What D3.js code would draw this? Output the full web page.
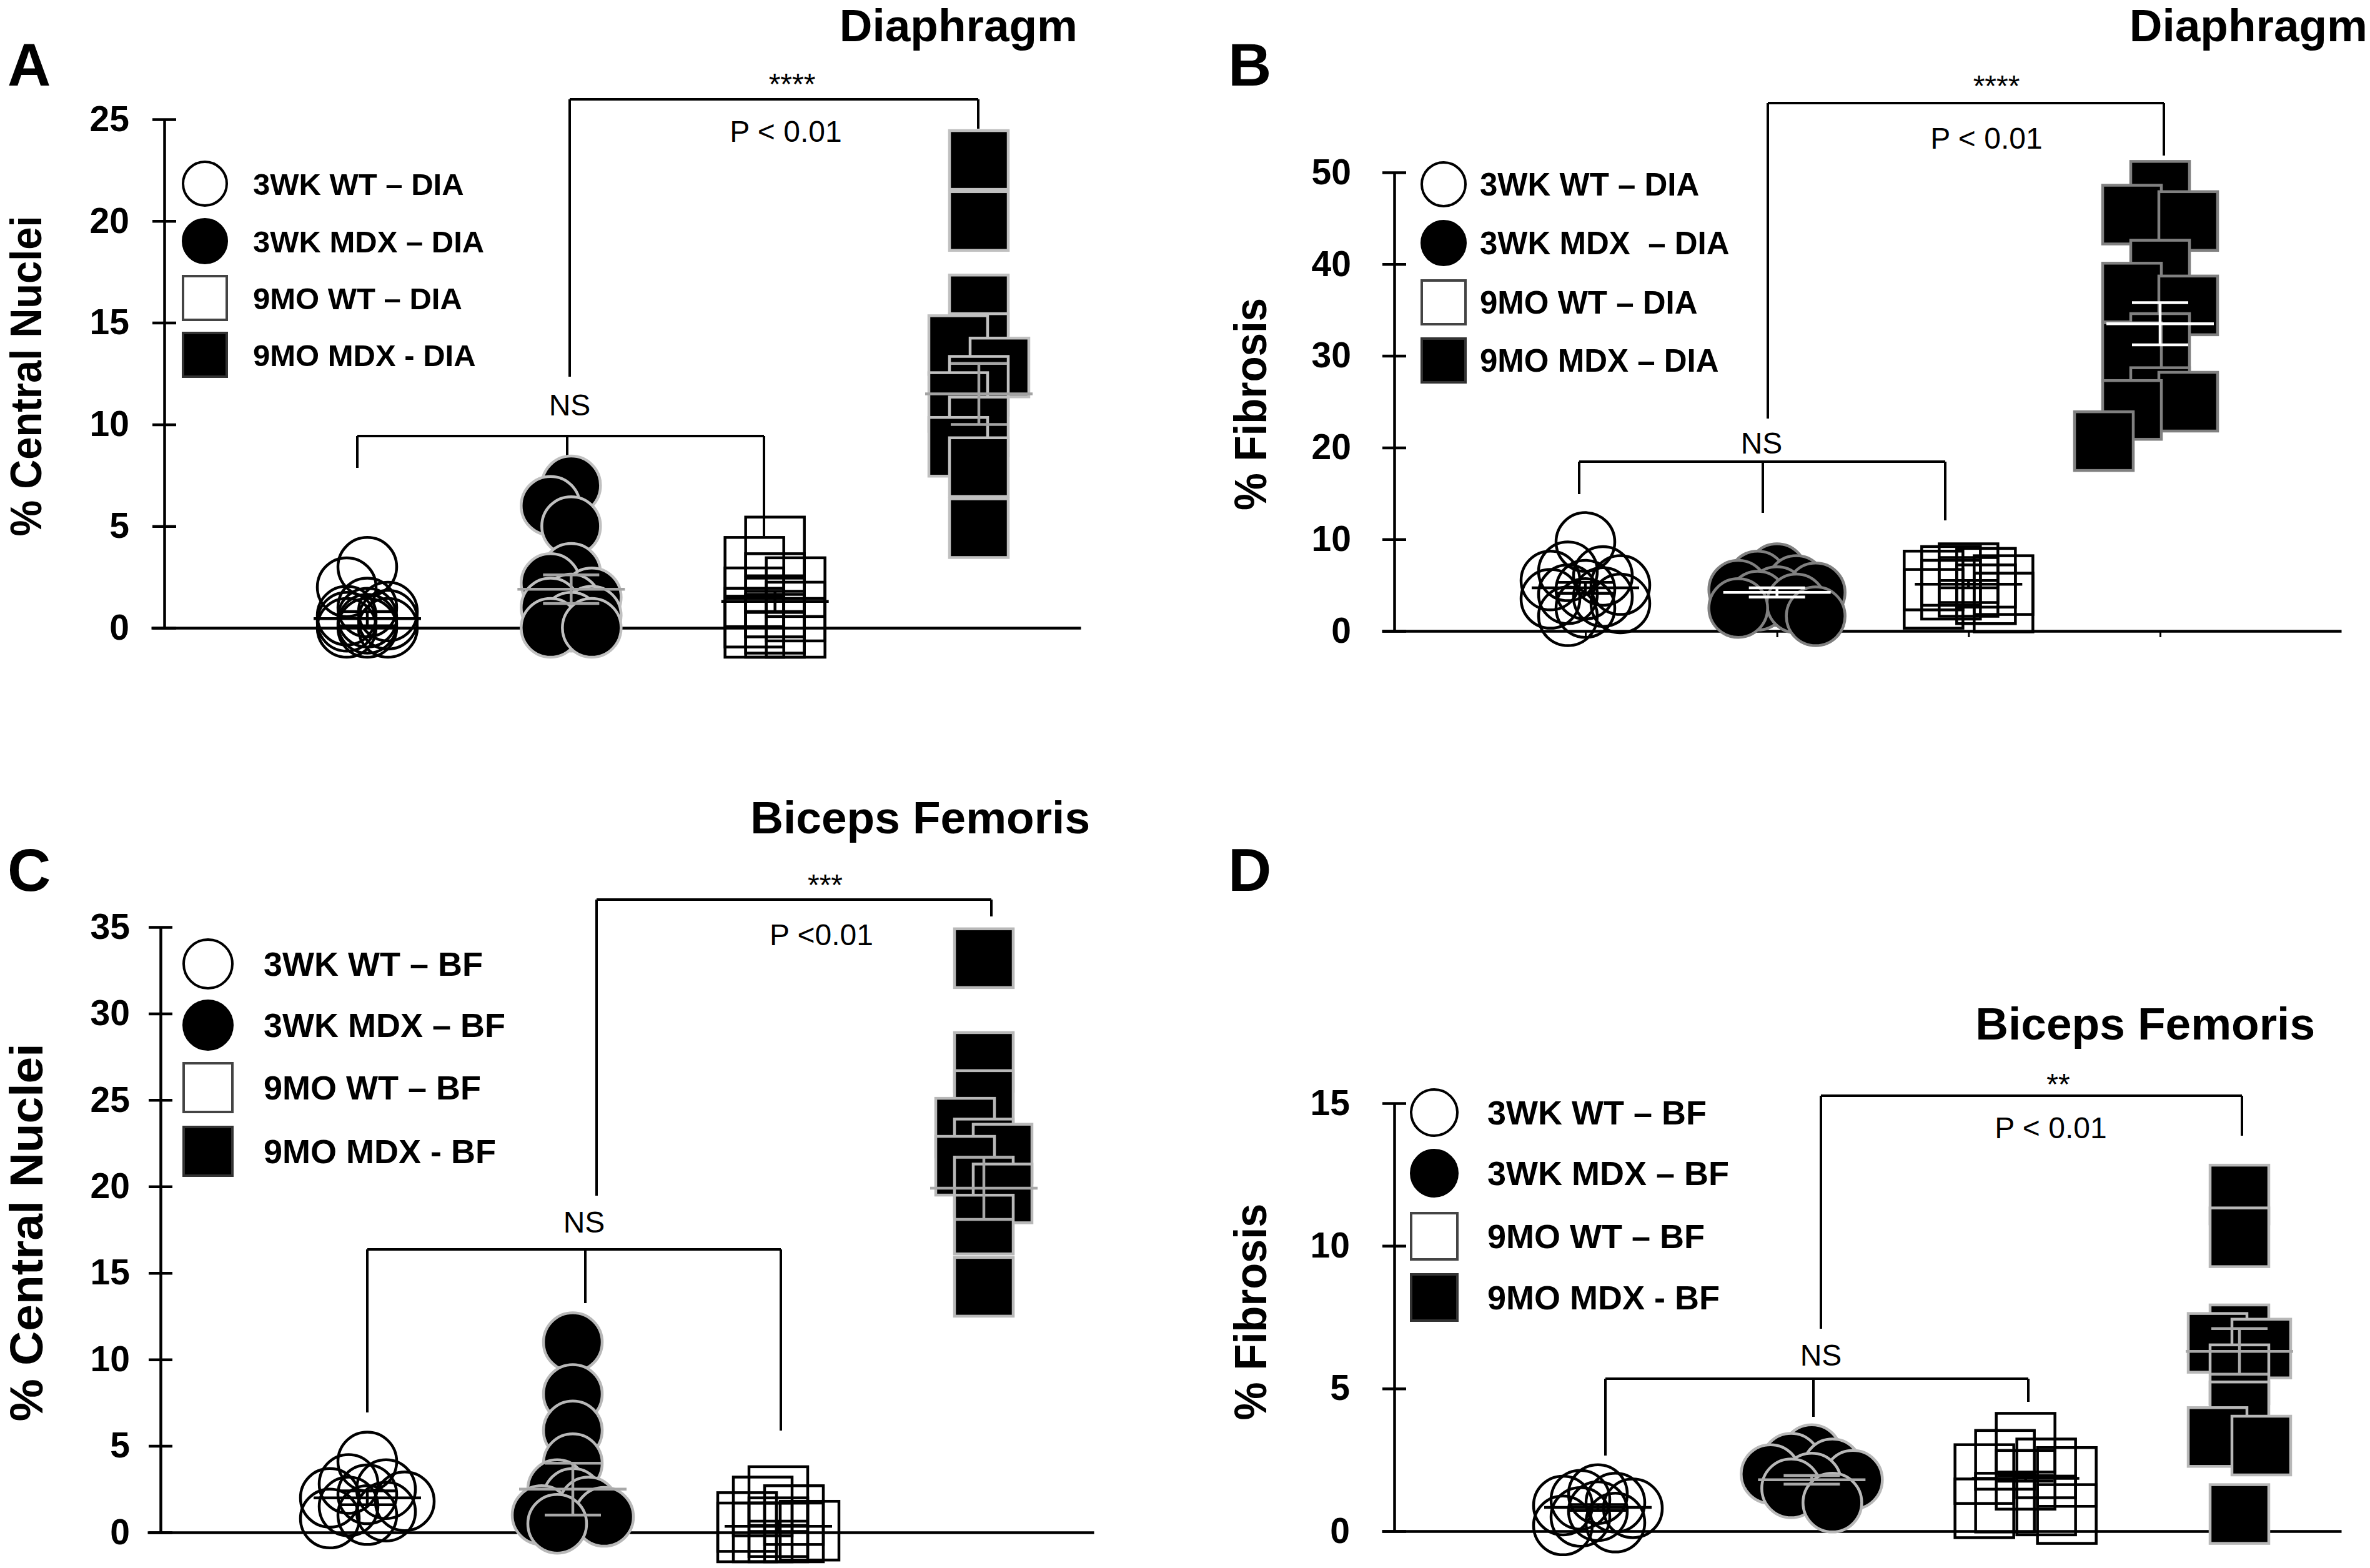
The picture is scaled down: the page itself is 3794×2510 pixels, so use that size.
<!DOCTYPE html>
<html>
<head>
<meta charset="utf-8">
<script src="https://cdn.jsdelivr.net/npm/d3@7"></script>
<style>
  body { margin: 0; background: #fff; }
  svg text { font-family: "Liberation Sans", Arial, Helvetica, sans-serif; fill: #000; }
</style>
</head>
<body>
<svg id="fig" width="3794" height="2510" viewBox="0 0 3794 2510"></svg>
<script>
// groups, same order in every panel
const groups = ["3WK WT", "3WK MDX", "9MO WT", "9MO MDX"];

// A - % central nuclei, diaphragm
const aWT3 = [3.0, 2.0, 1.0, 0.8, 0.6, 0.5, 0.4, 0.3, 0.2, 0, 0, 0];
const aMDX3 = [7.0, 6.0, 5.0, 2.7, 2.2, 1.5, 1.2, 1.0, 0.6, 0.3, 0, 0];
const aWT9 = [4.0, 3.0, 2.2, 2.0, 1.5, 1.0, 0.8, 0.5, 0.2, 0, 0, 0];
const aMDX9 = [23.0, 20.0, 15.9, 14.0, 13.9, 12.8, 11.9, 11.1, 9.9, 8.9, 7.9, 4.9];
const aMean = [0.45, 1.9, 1.3, 11.5];
const aSem = [0.35, 0.7, 0.5, 1.5];
const aTicks = [0, 5, 10, 15, 20, 25];
const aLegend = ["3WK WT \u2013 DIA", "3WK MDX \u2013 DIA", "9MO WT \u2013 DIA", "9MO MDX - DIA"];

// B - % fibrosis, diaphragm
const bWT3 = [9.7, 6.5, 6.0, 5.5, 5.0, 4.5, 4.0, 3.7, 3.5, 3.0, 2.5, 1.6];
const bMDX3 = [6.3, 5.5, 5.0, 4.5, 4.2, 3.8, 3.3, 3.0, 2.5, 1.6];
const bWT9 = [6.3, 6.0, 5.8, 5.5, 5.0, 4.8, 4.5, 4.0, 3.5, 3.1];
const bMDX9 = [48.0, 45.4, 44.7, 39.4, 36.9, 35.5, 31.4, 30.4, 25.5, 25.0, 24.1, 20.7];
const bMean = [4.7, 4.2, 5.1, 33.5];
const bSem = [0.6, 0.5, 0.4, 2.3];
const bTicks = [0, 10, 20, 30, 40, 50];
const bLegend = ["3WK WT \u2013 DIA", "3WK MDX  \u2013 DIA", "9MO WT \u2013 DIA", "9MO MDX \u2013 DIA"];

// C - % central nuclei, biceps femoris
const cWT3 = [4.1, 2.8, 2.5, 2.2, 2.0, 1.8, 1.5, 1.2, 1.0, 0.8];
const cMDX3 = [11.0, 8.0, 5.9, 4.0, 2.5, 2.0, 1.5, 1.0, 0.9, 0.5];
const cWT9 = [2.1, 1.5, 1.0, 0.6, 0.3, 0.1, 0, 0, 0, 0];
const cMDX9 = [33.2, 27.2, 25.0, 23.4, 22.2, 21.9, 21.2, 20.0, 19.6, 17.8, 14.2];
const cMean = [2.0, 2.5, 0.35, 19.9];
const cSem = [0.4, 1.5, 0.3, 1.8];
const cTicks = [0, 5, 10, 15, 20, 25, 30, 35];
const cLegend = ["3WK WT \u2013 BF", "3WK MDX \u2013 BF", "9MO WT \u2013 BF", "9MO MDX - BF"];

// D - % fibrosis, biceps femoris
const dWT3 = [1.3, 1.1, 1.0, 0.9, 0.8, 0.7, 0.5, 0.3, 0.2];
const dMDX3 = [2.7, 2.4, 2.2, 2.0, 1.8, 1.7, 1.5, 1.0];
const dWT9 = [3.1, 2.5, 2.2, 2.0, 1.9, 1.8, 1.0, 0.9, 0.8, 0.6];
const dMDX9 = [11.8, 10.3, 6.9, 6.6, 6.4, 5.5, 4.2, 3.3, 3.0, 0.6];
const dMean = [0.83, 1.8, 1.85, 6.3];
const dSem = [0.1, 0.15, 0.1, 0.8];
const dTicks = [0, 5, 10, 15];
const dLegend = ["3WK WT \u2013 BF", "3WK MDX \u2013 BF", "9MO WT \u2013 BF", "9MO MDX - BF"];

// layout of the four panels (pixels)
const panels = [
  { letter: "A", lx: 12, ly: 137, title: "Diaphragm", tx: 1725, ty: 66,
    ylabel: "% Central Nuclei", ylx: 66, yly: 602, ylSize: 71, ylLen: 513,
    ax: 263, y0: 1005, yTop: 191, xa: [242, 1730], gx: [588, 1567], tickPad: 37, xTick: 0,
    step: [33, 33, 33, 33], maxK: 1, gap: 0.5,
    data: [aWT3, aMDX3, aWT9, aMDX9], mean: aMean, sem: aSem, ticks: aTicks,
    legend: aLegend, legX: 328, legY: [294, 386, 477, 568], legR: 35, legTx: 405, legSize: 49,
    mdxStroke: "#c0c0c0", mdxLine: "#a3a3a3",
    brackets: [{ y: 159, legs: [[912, 603], [1566, 206]] },
               { y: 698, legs: [[572, 749], [908, 733], [1223, 858]] }],
    notes: [["****", 1268, 151], ["P < 0.01", 1258, 227], ["NS", 912, 665]] },
  { letter: "B", lx: 1966, ly: 137, title: "Diaphragm", tx: 3790, ty: 66,
    ylabel: "% Fibrosis", ylx: 2027, yly: 647, ylSize: 72, ylLen: 340,
    ax: 2232, y0: 1010, yTop: 276, xa: [2212, 3748], gx: [2538, 3458], tickPad: 50, xTick: 10,
    step: [28, 31, 28, 45], maxK: 2, gap: 0.9,
    data: [bWT3, bMDX3, bWT9, bMDX9], mean: bMean, sem: bSem, ticks: bTicks,
    legend: bLegend, legX: 2311, legY: [295, 389, 484, 577], legR: 35, legTx: 2369, legSize: 51,
    mdxStroke: "#808080", mdxLine: "#ffffff",
    brackets: [{ y: 165, legs: [[2830, 670], [3464, 249]] },
               { y: 739, legs: [[2528, 791], [2822, 821], [3114, 833]] }],
    notes: [["****", 3196, 154], ["P < 0.01", 3180, 238], ["NS", 2820, 726]] },
  { letter: "C", lx: 12, ly: 1426, title: "Biceps Femoris", tx: 1745, ty: 1334,
    ylabel: "% Central Nuclei", ylx: 68, yly: 1973, ylSize: 74, ylLen: 605,
    ax: 257, y0: 2453, yTop: 1484, xa: [236, 1751], gx: [588, 1575], tickPad: 30, xTick: 0,
    step: [30, 25, 25, 30], maxK: 2, gap: 0.5,
    data: [cWT3, cMDX3, cWT9, cMDX9], mean: cMean, sem: cSem, ticks: cTicks,
    legend: cLegend, legX: 333, legY: [1543, 1641, 1741, 1843], legR: 39, legTx: 422, legSize: 54,
    mdxStroke: "#b8b8b8", mdxLine: "#a8a8a8",
    brackets: [{ y: 1440, legs: [[955, 1914], [1587, 1467]] },
               { y: 2000, legs: [[588, 2261], [937, 2086], [1250, 2290]] }],
    notes: [["***", 1321, 1433], ["P <0.01", 1315, 1513], ["NS", 935, 1973]] },
  { letter: "D", lx: 1966, ly: 1426, title: "Biceps Femoris", tx: 3706, ty: 1664,
    ylabel: "% Fibrosis", ylx: 2027, yly: 2100, ylSize: 72, ylLen: 347,
    ax: 2232, y0: 2451, yTop: 1766, xa: [2212, 3748], gx: [2558, 3585], tickPad: 52, xTick: 0,
    step: [28, 33, 33, 35], maxK: 2, gap: 0.6,
    data: [dWT3, dMDX3, dWT9, dMDX9], mean: dMean, sem: dSem, ticks: dTicks,
    legend: dLegend, legX: 2296, legY: [1781, 1878, 1979, 2077], legR: 37, legTx: 2381, legSize: 54,
    mdxStroke: "#b8b8b8", mdxLine: "#a8a8a8",
    brackets: [{ y: 1754, legs: [[2915, 2127], [3589, 1818]] },
               { y: 2207, legs: [[2570, 2330], [2903, 2268], [3247, 2244]] }],
    notes: [["**", 3295, 1752], ["P < 0.01", 3283, 1822], ["NS", 2915, 2186]] }
];

const svg = d3.select("#fig");
const DIAM = 94;      // marker size

// spread points of one group sideways (greedy columns, like a prism scatter)
function dodge(values, y, maxK, gap) {
  const cols = [0];
  for (let k = 1; k <= maxK; k++) cols.push(-k, k);
  const placed = [];
  values.slice().sort((a, b) => b - a).forEach(v => {
    const py = y(v);
    let best = 0, bestScore = -1;
    for (const k of cols) {
      const near = placed.filter(p => p.k === k).map(p => Math.abs(p.py - py));
      const minDist = near.length ? d3.min(near) : Infinity;
      if (minDist > DIAM * gap) { best = k; break; }
      if (minDist > bestScore) { bestScore = minDist; best = k; }
    }
    placed.push({ v, py, k: best });
  });
  return placed;
}

function drawPanel(p) {
  const g = svg.append("g");
  const y = d3.scaleLinear().domain([0, d3.max(p.ticks)]).range([p.y0, p.yTop]);
  const x = d3.scalePoint().domain(groups).range(p.gx);

  // panel letter + title
  g.append("text").attr("x", p.lx).attr("y", p.ly)
    .attr("font-size", 96).attr("font-weight", "bold").text(p.letter);
  g.append("text").attr("x", p.tx).attr("y", p.ty).attr("text-anchor", "end")
    .attr("font-size", 73).attr("font-weight", "bold").text(p.title);

  // y axis, ticks cross the line
  const ya = g.append("g").attr("transform", `translate(${p.ax},0)`)
    .call(d3.axisLeft(y).tickValues(p.ticks).tickSizeInner(19).tickSizeOuter(0).tickPadding(p.tickPad));
  ya.select(".domain").attr("stroke", "#000").attr("stroke-width", 4.5);
  ya.selectAll(".tick line").attr("x1", 19).attr("stroke", "#000").attr("stroke-width", 4.5);
  ya.selectAll(".tick text").attr("font-size", 57).attr("font-weight", "bold")
    .attr("font-family", '"Liberation Sans", Arial, sans-serif').attr("fill", "#000");

  // x axis: plain line
  const xl = d3.scaleLinear().range(p.xa);
  const xa = g.append("g").attr("transform", `translate(0,${p.y0})`)
    .call(d3.axisBottom(xl).tickValues([]).tickSizeOuter(0));
  xa.select(".domain").attr("stroke", "#000").attr("stroke-width", 4.5);
  if (p.xTick > 0) {
    const xt = g.append("g").attr("transform", `translate(0,${p.y0})`)
      .call(d3.axisBottom(x).tickSize(p.xTick).tickFormat(""));
    xt.select(".domain").remove();
    xt.selectAll(".tick line").attr("stroke", "#000").attr("stroke-width", 3);
  }

  // y label
  g.append("text")
    .attr("transform", `translate(${p.ylx},${p.yly}) rotate(-90)`)
    .attr("text-anchor", "middle").attr("font-size", p.ylSize).attr("font-weight", "bold")
    .attr("textLength", p.ylLen).attr("lengthAdjust", "spacingAndGlyphs")
    .text(p.ylabel);

  // significance brackets
  p.brackets.forEach(b => {
    const xs = b.legs.map(l => l[0]);
    g.append("line").attr("x1", d3.min(xs)).attr("x2", d3.max(xs))
      .attr("y1", b.y).attr("y2", b.y).attr("stroke", "#000").attr("stroke-width", 4);
    b.legs.forEach(l => {
      g.append("line").attr("x1", l[0]).attr("x2", l[0]).attr("y1", b.y).attr("y2", l[1])
        .attr("stroke", "#000").attr("stroke-width", 4);
    });
  });
  p.notes.forEach(n => {
    g.append("text").attr("x", n[1]).attr("y", n[2]).attr("text-anchor", "middle")
      .attr("font-size", 48).text(n[0]);
  });

  // scatter points
  const styles = [
    { shape: "circle", fill: "none", stroke: "#000" },
    { shape: "circle", fill: "#000", stroke: p.mdxStroke },
    { shape: "square", fill: "none", stroke: "#000" },
    { shape: "square", fill: "#000", stroke: p.mdxStroke }
  ];
  p.data.forEach((vals, gi) => {
    const st = styles[gi];
    const cx = x(groups[gi]);
    const step = p.step[gi];
    const pts = dodge(vals, y, p.maxK, p.gap);
    const tag = st.shape === "circle" ? "circle" : "rect";
    const sel = g.append("g").selectAll(tag).data(pts).join(tag);
    if (st.shape === "circle") {
      sel.attr("cx", d => cx + d.k * step).attr("cy", d => y(d.v)).attr("r", DIAM / 2);
    } else {
      sel.attr("x", d => cx + d.k * step - DIAM / 2).attr("y", d => y(d.v) - DIAM / 2)
        .attr("width", DIAM).attr("height", DIAM);
    }
    sel.attr("fill", st.fill).attr("stroke", st.stroke).attr("stroke-width", 4.5);
  });

  // mean and SEM lines on top
  groups.forEach((grp, gi) => {
    const cx = x(grp);
    const col = (gi % 2 === 1) ? p.mdxLine : "#000";
    const m = p.mean[gi], s = p.sem[gi];
    const lg = g.append("g").attr("stroke", col).attr("stroke-width", 4.5);
    lg.append("line").attr("x1", cx - 86).attr("x2", cx + 86).attr("y1", y(m)).attr("y2", y(m));
    lg.append("line").attr("x1", cx).attr("x2", cx).attr("y1", y(m + s)).attr("y2", y(m - s));
    [m + s, m - s].forEach(v => {
      lg.append("line").attr("x1", cx - 45).attr("x2", cx + 45).attr("y1", y(v)).attr("y2", y(v));
    });
  });

  // legend
  const legStroke = ["#000", "#000", "#444", "#333"];
  p.legend.forEach((lab, i) => {
    const ly = p.legY[i], r = p.legR;
    if (i < 2) {
      g.append("circle").attr("cx", p.legX).attr("cy", ly).attr("r", r)
        .attr("fill", i === 0 ? "#fff" : "#000").attr("stroke", legStroke[i]).attr("stroke-width", 4);
    } else {
      g.append("rect").attr("x", p.legX - r).attr("y", ly - r).attr("width", 2 * r).attr("height", 2 * r)
        .attr("fill", i === 2 ? "#fff" : "#000").attr("stroke", legStroke[i]).attr("stroke-width", 4);
    }
    g.append("text").attr("x", p.legTx).attr("y", ly).attr("dy", "0.36em")
      .attr("font-size", p.legSize).attr("font-weight", "bold")
      .style("white-space", "pre").text(lab);
  });
}

panels.forEach(drawPanel);
</script>
</body>
</html>
